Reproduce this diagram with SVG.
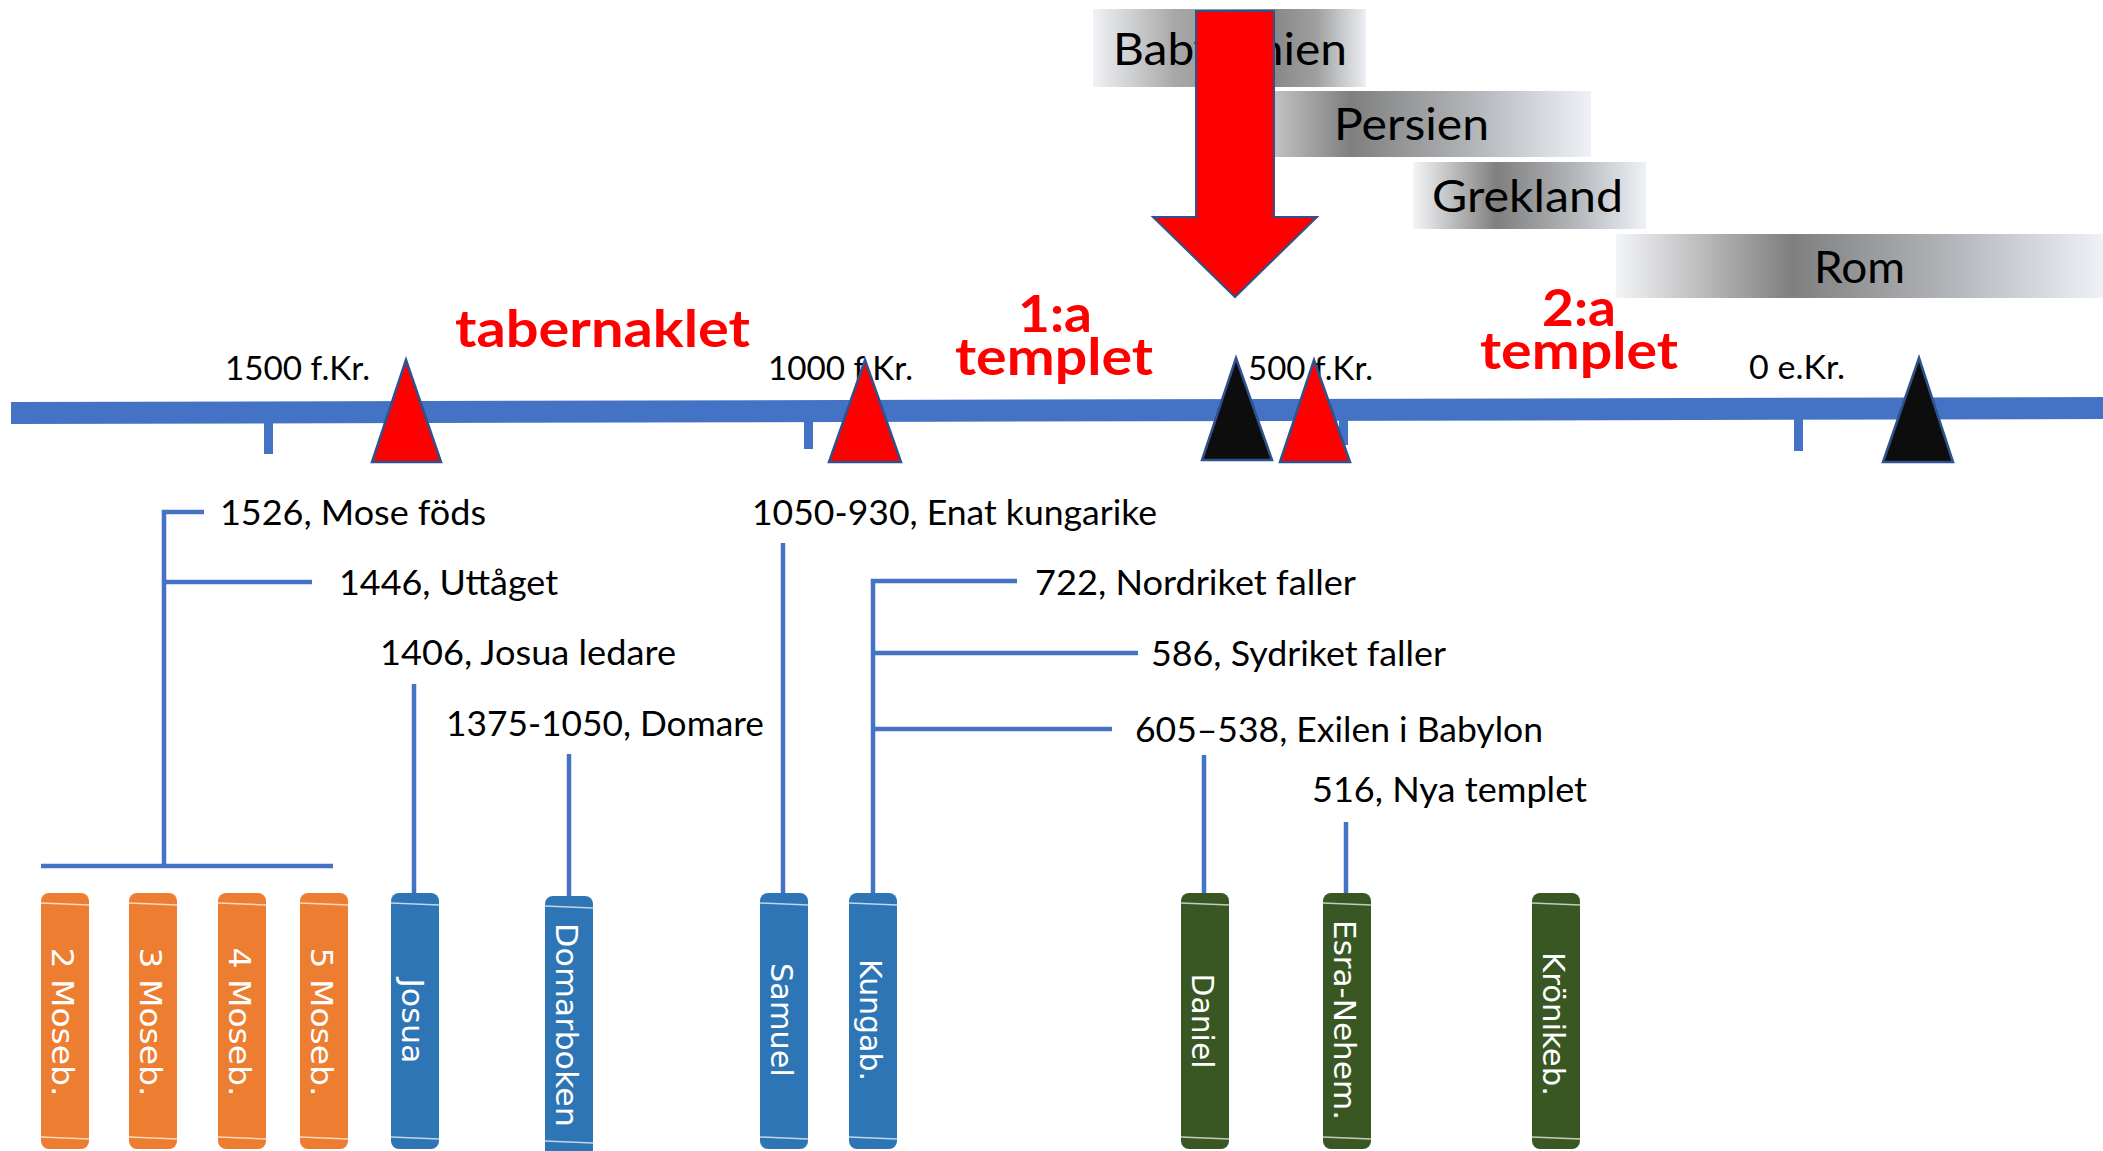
<svg xmlns="http://www.w3.org/2000/svg" width="2103" height="1151" viewBox="0 0 2103 1151">
<defs>
<style>
.lbl{font-family:Lato,"Liberation Sans",sans-serif;font-size:35px;fill:#000}
.axl{font-size:33px}
.red{font-family:Lato,"Liberation Sans",sans-serif;font-weight:bold;font-size:52px;fill:#FF0000}
.emp{font-family:Lato,"Liberation Sans",sans-serif;font-size:45px;fill:#000}
.book{font-family:"DejaVu Sans",sans-serif;font-size:31px;fill:#fff}
.conn{stroke:#4472C4;stroke-width:4.5;fill:none}
.tick{fill:#4472C4}
.tri{stroke:#2F528F;stroke-width:2.5}
.or{fill:#ED7D31}
.bl{fill:#2E75B6}
.gr{fill:#385723}
.band{stroke:#ffffff;stroke-opacity:0.7;stroke-width:1.5}
</style>
<linearGradient id="gBab" x1="0" y1="0" x2="1" y2="0">
<stop offset="0" stop-color="#F0F2F5"/>
<stop offset="0.3" stop-color="#A8A8A8"/>
<stop offset="0.65" stop-color="#858585"/>
<stop offset="0.82" stop-color="#A0A0A0"/>
<stop offset="1" stop-color="#ECEFF3"/>
</linearGradient>
<linearGradient id="gEmp" x1="0" y1="0" x2="1" y2="0">
<stop offset="0" stop-color="#F4F5F7"/>
<stop offset="0.36" stop-color="#7F7F7F"/>
<stop offset="0.7" stop-color="#B4B7BB"/>
<stop offset="1" stop-color="#EEF1F5"/>
</linearGradient>
</defs>
<rect width="2103" height="1151" fill="#ffffff"/>

<!-- empire bands -->
<g id="babylonien">
<rect x="1093" y="9" width="273" height="78" fill="url(#gBab)"/>
<text class="emp" x="1113" y="65" textLength="234" lengthAdjust="spacingAndGlyphs">Babylonien</text>
</g>
<g id="persien">
<rect x="1215" y="91" width="376" height="66" fill="url(#gEmp)"/>
<text class="emp" x="1334" y="140" textLength="155" lengthAdjust="spacingAndGlyphs">Persien</text>
</g>
<g id="grekland">
<rect x="1413" y="162" width="233" height="67" fill="url(#gEmp)"/>
<text class="emp" x="1432" y="212" textLength="191" lengthAdjust="spacingAndGlyphs">Grekland</text>
</g>
<g id="rom">
<rect x="1616" y="234" width="487" height="64" fill="url(#gEmp)"/>
<text class="emp" x="1814" y="283" textLength="91" lengthAdjust="spacingAndGlyphs">Rom</text>
</g>

<g id="arrow">
<polygon points="1196,11 1274,11 1274,217 1317,217 1235,297 1153,217 1196,217" fill="#FF0000" stroke="#2F528F" stroke-width="2"/>
</g>

<!-- period labels -->
<g id="period-labels">
<text class="red" x="455" y="347" textLength="295" lengthAdjust="spacingAndGlyphs">tabernaklet</text>
<text class="red"><tspan x="1018" y="332" textLength="74" lengthAdjust="spacingAndGlyphs">1:a</tspan><tspan x="955" y="375" textLength="198" lengthAdjust="spacingAndGlyphs">templet</tspan></text>
<text class="red"><tspan x="1542" y="326" textLength="74" lengthAdjust="spacingAndGlyphs">2:a</tspan><tspan x="1480" y="369" textLength="198" lengthAdjust="spacingAndGlyphs">templet</tspan></text>
</g>

<!-- axis labels -->
<g id="axis-labels">
<text class="lbl axl" x="225" y="380" textLength="145" lengthAdjust="spacingAndGlyphs">1500 f.Kr.</text>
<text class="lbl axl" x="768" y="380" textLength="145" lengthAdjust="spacingAndGlyphs">1000 f.Kr.</text>
<text class="lbl axl" x="1248" y="380" textLength="125" lengthAdjust="spacingAndGlyphs">500 f.Kr.</text>
<text class="lbl axl" x="1749" y="379" textLength="96" lengthAdjust="spacingAndGlyphs">0 e.Kr.</text>
</g>

<!-- timeline axis -->
<g id="axis">
<polygon points="11,402 2103,397 2103,419 11,424" fill="#4472C4"/>
<rect class="tick" x="264" y="415" width="9" height="39"/>
<rect class="tick" x="804" y="415" width="9" height="34"/>
<rect class="tick" x="1339" y="415" width="9" height="30"/>
<rect class="tick" x="1794" y="415" width="9" height="36"/>
</g>

<!-- markers -->
<g id="markers">
<polygon class="tri" points="406,360 441,462 372,462" fill="#FF0000"/>
<polygon class="tri" points="865,360 901,462 829,462" fill="#FF0000"/>
<polygon class="tri" points="1236,358 1272,460 1202,460" fill="#0D0D0D"/>
<polygon class="tri" points="1314,360 1350,462 1280,462" fill="#FF0000"/>
<polygon class="tri" points="1919,358 1953,462 1883,462" fill="#0D0D0D"/>
</g>

<!-- event labels -->
<g id="events">
<text class="lbl" x="220" y="525" textLength="266" lengthAdjust="spacingAndGlyphs">1526, Mose föds</text>
<text class="lbl" x="339" y="595" textLength="219" lengthAdjust="spacingAndGlyphs">1446, Uttåget</text>
<text class="lbl" x="380" y="665" textLength="296" lengthAdjust="spacingAndGlyphs">1406, Josua ledare</text>
<text class="lbl" x="446" y="736" textLength="318" lengthAdjust="spacingAndGlyphs">1375-1050, Domare</text>
<text class="lbl" x="752" y="525" textLength="405" lengthAdjust="spacingAndGlyphs">1050-930, Enat kungarike</text>
<text class="lbl" x="1035" y="595" textLength="321" lengthAdjust="spacingAndGlyphs">722, Nordriket faller</text>
<text class="lbl" x="1151" y="666" textLength="295" lengthAdjust="spacingAndGlyphs">586, Sydriket faller</text>
<text class="lbl" x="1135" y="742" textLength="408" lengthAdjust="spacingAndGlyphs">605–538, Exilen i Babylon</text>
<text class="lbl" x="1312" y="802" textLength="275" lengthAdjust="spacingAndGlyphs">516, Nya templet</text>
</g>

<!-- connectors -->
<g id="connectors">
<path class="conn" d="M204,512 H164 V866"/>
<path class="conn" d="M166,582 H312"/>
<path class="conn" d="M41,866 H333"/>
<path class="conn" d="M414,684 V893"/>
<path class="conn" d="M569,754 V896"/>
<path class="conn" d="M783,543 V893"/>
<path class="conn" d="M1017,581 H873 V893"/>
<path class="conn" d="M873,653 H1138"/>
<path class="conn" d="M873,729 H1112"/>
<path class="conn" d="M1204,755 V893"/>
<path class="conn" d="M1346,822 V893"/>
</g>

<!-- books -->
<g id="book-2mos">
<rect class="or" x="41" y="893" width="48" height="256" rx="8"/>
<line class="band" x1="41" y1="903" x2="89" y2="905"/><line class="band" x1="41" y1="1137" x2="89" y2="1139"/>
<text class="book" transform="translate(65,1022) rotate(90)" x="0" y="13" text-anchor="middle" textLength="149" lengthAdjust="spacingAndGlyphs">2 Moseb.</text>
</g>
<g id="book-3mos">
<rect class="or" x="129" y="893" width="48" height="256" rx="8"/>
<line class="band" x1="129" y1="903" x2="177" y2="905"/><line class="band" x1="129" y1="1137" x2="177" y2="1139"/>
<text class="book" transform="translate(153,1022) rotate(90)" x="0" y="13" text-anchor="middle" textLength="149" lengthAdjust="spacingAndGlyphs">3 Moseb.</text>
</g>
<g id="book-4mos">
<rect class="or" x="218" y="893" width="48" height="256" rx="8"/>
<line class="band" x1="218" y1="903" x2="266" y2="905"/><line class="band" x1="218" y1="1137" x2="266" y2="1139"/>
<text class="book" transform="translate(242,1022) rotate(90)" x="0" y="13" text-anchor="middle" textLength="149" lengthAdjust="spacingAndGlyphs">4 Moseb.</text>
</g>
<g id="book-5mos">
<rect class="or" x="300" y="893" width="48" height="256" rx="8"/>
<line class="band" x1="300" y1="903" x2="348" y2="905"/><line class="band" x1="300" y1="1137" x2="348" y2="1139"/>
<text class="book" transform="translate(324,1022) rotate(90)" x="0" y="13" text-anchor="middle" textLength="149" lengthAdjust="spacingAndGlyphs">5 Moseb.</text>
</g>
<g id="book-josua">
<rect class="bl" x="391" y="893" width="48" height="256" rx="8"/>
<line class="band" x1="391" y1="903" x2="439" y2="905"/><line class="band" x1="391" y1="1137" x2="439" y2="1139"/>
<text class="book" transform="translate(415,1021) rotate(90)" x="0" y="13" text-anchor="middle" textLength="85" lengthAdjust="spacingAndGlyphs">Josua</text>
</g>
<g id="book-domarboken">
<rect class="bl" x="545" y="896" width="48" height="262" rx="8"/>
<line class="band" x1="545" y1="906" x2="593" y2="908"/><line class="band" x1="545" y1="1141" x2="593" y2="1143"/>
<text class="book" transform="translate(569,1025) rotate(90)" x="0" y="13" text-anchor="middle" textLength="204" lengthAdjust="spacingAndGlyphs">Domarboken</text>
</g>
<g id="book-samuel">
<rect class="bl" x="760" y="893" width="48" height="256" rx="8"/>
<line class="band" x1="760" y1="903" x2="808" y2="905"/><line class="band" x1="760" y1="1137" x2="808" y2="1139"/>
<text class="book" transform="translate(784,1020) rotate(90)" x="0" y="13" text-anchor="middle" textLength="114" lengthAdjust="spacingAndGlyphs">Samuel</text>
</g>
<g id="book-kungab">
<rect class="bl" x="849" y="893" width="48" height="256" rx="8"/>
<line class="band" x1="849" y1="903" x2="897" y2="905"/><line class="band" x1="849" y1="1137" x2="897" y2="1139"/>
<text class="book" transform="translate(873,1020) rotate(90)" x="0" y="13" text-anchor="middle" textLength="122" lengthAdjust="spacingAndGlyphs">Kungab.</text>
</g>
<g id="book-daniel">
<rect class="gr" x="1181" y="893" width="48" height="256" rx="8"/>
<line class="band" x1="1181" y1="903" x2="1229" y2="905"/><line class="band" x1="1181" y1="1137" x2="1229" y2="1139"/>
<text class="book" transform="translate(1205,1021) rotate(90)" x="0" y="13" text-anchor="middle" textLength="95" lengthAdjust="spacingAndGlyphs">Daniel</text>
</g>
<g id="book-esra">
<rect class="gr" x="1323" y="893" width="48" height="256" rx="8"/>
<line class="band" x1="1323" y1="903" x2="1371" y2="905"/><line class="band" x1="1323" y1="1137" x2="1371" y2="1139"/>
<text class="book" transform="translate(1347,1020) rotate(90)" x="0" y="13" text-anchor="middle" textLength="200" lengthAdjust="spacingAndGlyphs">Esra-Nehem.</text>
</g>
<g id="book-kronikeb">
<rect class="gr" x="1532" y="893" width="48" height="256" rx="8"/>
<line class="band" x1="1532" y1="903" x2="1580" y2="905"/><line class="band" x1="1532" y1="1137" x2="1580" y2="1139"/>
<text class="book" transform="translate(1556,1024) rotate(90)" x="0" y="13" text-anchor="middle" textLength="144" lengthAdjust="spacingAndGlyphs">Krönikeb.</text>
</g>
</svg>
